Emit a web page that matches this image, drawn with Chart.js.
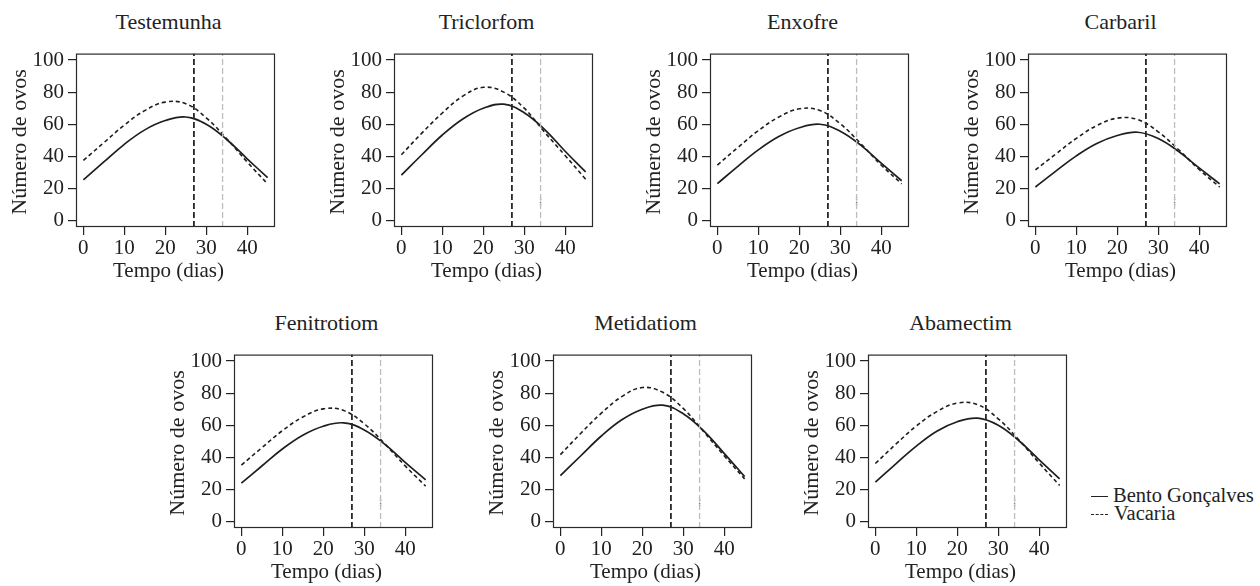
<!DOCTYPE html>
<html>
<head>
<meta charset="utf-8">
<script src="https://cdn.jsdelivr.net/npm/chart.js@4.4.1/dist/chart.umd.min.js"></script>
<style>
  body { margin: 0; background: #fff; width: 1260px; height: 586px; position: relative; overflow: hidden;
         font-family: "Liberation Serif", "DejaVu Serif", serif; color: #222; }
  canvas { position: absolute; }
  .txt { position: absolute; white-space: nowrap; text-align: center; width: 300px; }
</style>
</head>
<body>
<script>
// dias avaliados
const dias = [0, 5, 10, 15, 20, 25, 30, 35, 40, 45];

// numero de ovos estimado - Bento Goncalves / Vacaria
const testemunhaBento   = [25.3, 36.5, 47.5, 56.5, 62.3, 64.5, 60, 50.5, 38.5, 26.7];
const testemunhaVacaria = [37.5, 48.5, 59.5, 68.5, 73.8, 72.8, 64, 51, 36.5, 22.8];
const triclorfomBento   = [28.3, 41, 53.3, 63.3, 70, 72.5, 67.2, 56.7, 43.2, 30.3];
const triclorfomVacaria = [41, 54.5, 67, 77.5, 83, 80, 70, 55, 40.5, 25.8];
const enxofreBento      = [23, 33.8, 44, 52.3, 57.8, 60, 55.7, 47, 35.8, 24.8];
const enxofreVacaria    = [34.6, 45.5, 56, 64.5, 69.6, 68.6, 60.3, 48, 34.6, 22.9];
const carbarilBento     = [20.9, 30.8, 40.3, 48, 53, 55, 51.1, 43, 32.8, 22.9];
const carbarilVacaria   = [31.6, 41.5, 51.2, 59.2, 63.8, 62.9, 55.3, 44.1, 31.8, 20.9];
const fenitrotiomBento  = [24, 34.6, 45.2, 53.8, 59.4, 61.5, 57.1, 48.2, 36.9, 26];
const fenitrotiomVacaria= [35.2, 46, 56.6, 65.1, 70.2, 69.2, 60.9, 48.5, 34.7, 22.1];
const metidatiomBento   = [28.6, 41, 53.3, 63.4, 70, 72.5, 67.2, 56.5, 42.5, 28];
const metidatiomVacaria = [41.7, 55, 67.5, 77.8, 83.5, 80.5, 70.5, 56, 41, 26.6];
const abamectimBento    = [24.5, 36, 47, 56.3, 62.2, 64.4, 60, 50.5, 38.5, 26.6];
const abamectimVacaria  = [36.2, 48.2, 59.5, 68.5, 73.8, 72.8, 64, 51, 36.5, 22.5];

const titulos = ["Testemunha", "Triclorfom", "Enxofre", "Carbaril", "Fenitrotiom", "Metidatiom", "Abamectim"];
const bento = [testemunhaBento, triclorfomBento, enxofreBento, carbarilBento, fenitrotiomBento, metidatiomBento, abamectimBento];
const vacaria = [testemunhaVacaria, triclorfomVacaria, enxofreVacaria, carbarilVacaria, fenitrotiomVacaria, metidatiomVacaria, abamectimVacaria];
const temMarca = [false, true, true, true, true, true, true];

// linhas verticais (dias) e pequena marca em x = 34
const linhaPreta = 27;
const linhaCinza = 34;
const marcaY = [9.5, 14.5];

const xTicks = [0, 10, 20, 30, 40];
const yTicks = [0, 20, 40, 60, 80, 100];
const xLim = [-1.8, 46.8];
const yLim = [-4, 104];

// posicao das caixas (left, top) em px
const caixas = [[76, 42], [394, 42], [710, 42], [1028, 42], [234, 343], [553, 343], [868, 343]];
const caixaW = 199;
const caixaH = 185;

const FONT = '"Liberation Serif", "DejaVu Serif", serif';

function texto(str, cx, baseline, size, rotate) {
  const el = document.createElement("div");
  el.className = "txt";
  el.textContent = str;
  el.style.font = `${size}px/${size}px ${FONT}`;
  el.style.height = `${size}px`;
  if (rotate) {
    // cx = x da linha de base, baseline = centro vertical do texto
    const centroX = cx - 0.3375 * size;
    el.style.left = `${centroX - 150}px`;
    el.style.top = `${baseline - size / 2}px`;
    el.style.transform = "rotate(-90deg)";
  } else {
    el.style.left = `${cx - 150}px`;
    el.style.top = `${baseline - 0.8375 * size}px`;
  }
  document.body.appendChild(el);
}

const caixaPlugin = {
  id: "caixa",
  afterDatasetsDraw(chart) {
    const { ctx, chartArea: a } = chart;
    ctx.save();
    ctx.strokeStyle = "#2a2a2a";
    ctx.lineWidth = 1.2;
    ctx.strokeRect(a.left + 0.5, a.top + 0.5, a.right - a.left - 1, a.bottom - a.top - 1);
    ctx.restore();
  },
};

function vertical(x, color, width) {
  return {
    data: [{ x, y: yLim[0] }, { x, y: yLim[1] }],
    borderColor: color,
    borderWidth: width,
    borderDash: [6, 3],
    pointRadius: 0,
    tension: 0,
  };
}

function painel(i) {
  const [bx, by] = caixas[i];
  const canvas = document.createElement("canvas");
  const W = 50 + caixaW + 5;
  const H = 5 + caixaH + 40;
  canvas.width = W;
  canvas.height = H;
  canvas.style.left = `${bx - 50}px`;
  canvas.style.top = `${by - 5}px`;
  document.body.appendChild(canvas);

  const datasets = [
    vertical(linhaPreta, "#2a2a2a", 1.8),
    vertical(linhaCinza, "#bdbdbd", 1.3),
    {
      label: "Bento Gonçalves",
      data: dias.map((d, k) => ({ x: d, y: bento[i][k] })),
      borderColor: "#1e1e1e",
      borderWidth: 1.7,
      pointRadius: 0,
      tension: 0.4,
    },
    {
      label: "Vacaria",
      data: dias.map((d, k) => ({ x: d, y: vacaria[i][k] })),
      borderColor: "#1e1e1e",
      borderWidth: 1.6,
      borderDash: [4, 3],
      pointRadius: 0,
      tension: 0.4,
    },
  ];
  if (temMarca[i]) {
    datasets.push({
      data: marcaY.map((y) => ({ x: linhaCinza, y })),
      borderColor: "#555",
      borderWidth: 1.4,
      borderDash: [1, 1.5],
      pointRadius: 0,
    });
  }

  const tickFont = { family: FONT, size: 21 };
  new Chart(canvas, {
    type: "line",
    data: { datasets },
    plugins: [caixaPlugin],
    options: {
      responsive: false,
      animation: false,
      events: [],
      layout: { padding: { left: 0, top: 5, right: 5, bottom: 0 } },
      plugins: { legend: { display: false }, tooltip: { enabled: false } },
      scales: {
        x: {
          type: "linear",
          min: xLim[0],
          max: xLim[1],
          afterBuildTicks(s) { s.ticks = xTicks.map((v) => ({ value: v })); },
          afterFit(s) { s.height = 40; },
          ticks: { color: "#222", font: tickFont, padding: 1, maxRotation: 0, autoSkip: false },
          grid: { drawOnChartArea: false, drawTicks: true, tickLength: 8, color: "#222", lineWidth: 1.2 },
          border: { display: false },
        },
        y: {
          type: "linear",
          min: yLim[0],
          max: yLim[1],
          afterBuildTicks(s) { s.ticks = yTicks.map((v) => ({ value: v })); },
          afterFit(s) { s.width = 50; },
          ticks: { color: "#222", font: tickFont, padding: 4, autoSkip: false },
          grid: { drawOnChartArea: false, drawTicks: true, tickLength: 8, color: "#222", lineWidth: 1.2 },
          border: { display: false },
        },
      },
    },
  });

  const cx = bx + caixaW / 2 - 7;
  texto(titulos[i], cx, by - 13, 22);
  texto("Tempo (dias)", cx, by + caixaH + 51, 21);
  texto("Número de ovos", bx - 50, by + caixaH / 2 + 7, 22, true);
}

titulos.forEach((_, i) => painel(i));

// legenda
function amostra(top, dashed) {
  const el = document.createElement("div");
  el.style.position = "absolute";
  el.style.left = "1091px";
  el.style.top = `${top}px`;
  el.style.width = "17px";
  el.style.height = "0";
  el.style.borderTop = dashed ? "1.5px dashed #222" : "1.8px solid #222";
  document.body.appendChild(el);
}
amostra(496, false);
amostra(514, true);
const legBento = document.createElement("div");
legBento.className = "txt";
legBento.style.cssText = `text-align:left;left:1113px;top:${502 - 17.2}px;font:20.5px/20.5px ${FONT};width:auto`;
legBento.textContent = "Bento Gonçalves";
document.body.appendChild(legBento);
const legVac = document.createElement("div");
legVac.className = "txt";
legVac.style.cssText = `text-align:left;left:1114px;top:${520 - 17.2}px;font:20.5px/20.5px ${FONT};width:auto`;
legVac.textContent = "Vacaria";
document.body.appendChild(legVac);
</script>
</body>
</html>
